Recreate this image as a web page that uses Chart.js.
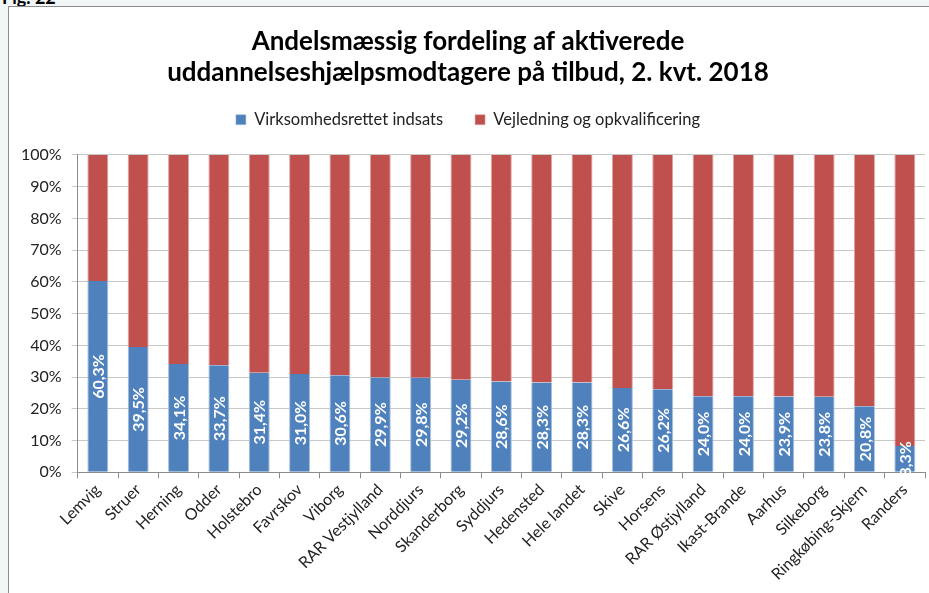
<!DOCTYPE html>
<html lang="da">
<head>
<meta charset="UTF-8" />
<title>Andelsmæssig fordeling</title>
<script src="https://cdn.jsdelivr.net/npm/chart.js"></script>
<style>
  html, body { margin: 0; padding: 0; }
  body { background: #f2f6f6; width: 929px; height: 593px; overflow: hidden; position: relative; font-family: Lato, "Open Sans", sans-serif; }
  #fig { position: absolute; left: 2px; top: -14px; font-weight: bold; font-size: 18px; color: #000; }
  #frame { position: absolute; left: 8px; top: 6px; width: 940px; height: 600px; background: #fff; border: 1px solid #8c8c8c; box-sizing: border-box; }
  #wrap { position: absolute; left: 1px; top: 1px; width: 930px; height: 586px; }
</style>
</head>
<body>
<div id="fig">Fig. 22</div>
<div id="frame">
  <div id="wrap"><canvas id="chart"></canvas></div>
</div>

<script>
  const categories = ['Lemvig', 'Struer', 'Herning', 'Odder', 'Holstebro', 'Favrskov', 'Viborg',
    'RAR Vestjylland', 'Norddjurs', 'Skanderborg', 'Syddjurs', 'Hedensted', 'Hele landet', 'Skive',
    'Horsens', 'RAR Østjylland', 'Ikast-Brande', 'Aarhus', 'Silkeborg', 'Ringkøbing-Skjern', 'Randers'];
  const virksomhed = [60.3, 39.5, 34.1, 33.7, 31.4, 31.0, 30.6, 29.9, 29.8, 29.2, 28.6, 28.3, 28.3, 26.6,
    26.2, 24.0, 24.0, 23.9, 23.8, 20.8, 8.3];
  const vejledning = [39.7, 60.5, 65.9, 66.3, 68.6, 69.0, 69.4, 70.1, 70.2, 70.8, 71.4, 71.7, 71.7, 73.4,
    73.8, 76.0, 76.0, 76.1, 76.2, 79.2, 91.7];
  const seriesNames = ['Virksomhedsrettet indsats', 'Vejledning og opkvalificering'];
  const titleLines = ['Andelsmæssig fordeling af aktiverede', 'uddannelseshjælpsmodtagere på tilbud, 2. kvt. 2018'];

  const FONT = 'Lato, "Open Sans", sans-serif';

  // white rotated value labels inside the blue bars
  const barLabels = {
    id: 'barLabels',
    afterDatasetsDraw(chart) {
      const c = chart.ctx;
      const meta = chart.getDatasetMeta(0);
      c.save();
      c.fillStyle = '#fff';
      c.font = 'bold 16px ' + FONT;
      c.textAlign = 'center';
      c.textBaseline = 'middle';
      meta.data.forEach((bar, i) => {
        const cy = (bar.y + bar.base) / 2;
        c.save();
        c.translate(bar.x, cy);
        c.rotate(-Math.PI / 2);
        c.fillText(virksomhed[i].toFixed(1).replace('.', ',') + '%', 0, 1);
        c.restore();
      });
      c.restore();
    }
  };

  new Chart(document.getElementById('chart'), {
    type: 'bar',
    data: {
      labels: categories,
      datasets: [
        { label: seriesNames[0], data: virksomhed, backgroundColor: '#4f81bd', borderColor: '#a9c0de', borderWidth: { left: 1, right: 1 }, categoryPercentage: 0.52, barPercentage: 1 },
        { label: seriesNames[1], data: vejledning, backgroundColor: '#c0504d', borderColor: '#e0a6a4', borderWidth: { left: 1, right: 1 }, categoryPercentage: 0.52, barPercentage: 1 }
      ]
    },
    options: {
      responsive: true,
      maintainAspectRatio: false,
      animation: false,
      layout: { padding: { left: 1, right: 15, top: 18, bottom: 8 } },
      plugins: {
        title: {
          display: true,
          text: titleLines,
          color: '#000',
          font: { family: FONT, size: 26, weight: 'bold', lineHeight: 1.2 },
          padding: { top: 0, bottom: -9 }
        },
        // empty spacer between legend and plot
        subtitle: {
          display: true,
          text: ' ',
          weight: 500,
          font: { size: 10, lineHeight: 1.2 },
          padding: { top: 0, bottom: 5 }
        },
        legend: {
          position: 'top',
          labels: {
            color: '#222',
            font: { family: FONT, size: 16.5 },
            boxWidth: 10,
            boxHeight: 10,
            padding: 32
          }
        },
        tooltip: { enabled: false }
      },
      scales: {
        x: {
          stacked: true,
          grid: { display: true, drawOnChartArea: false, drawTicks: true, tickLength: 6, color: '#8c8c8c', offset: true },
          border: { color: '#8c8c8c' },
          ticks: { color: '#222', font: { family: FONT, size: 16 }, minRotation: 45, maxRotation: 45, autoSkip: false, padding: 2 }
        },
        y: {
          stacked: true,
          min: 0,
          max: 100,
          grid: { color: '#c8c8c8', tickLength: 6 },
          border: { color: '#8c8c8c' },
          ticks: { stepSize: 10, color: '#222', font: { family: FONT, size: 16 }, padding: 10, callback: v => v + '%' }
        }
      }
    },
    plugins: [barLabels]
  });
</script>
</body>
</html>
